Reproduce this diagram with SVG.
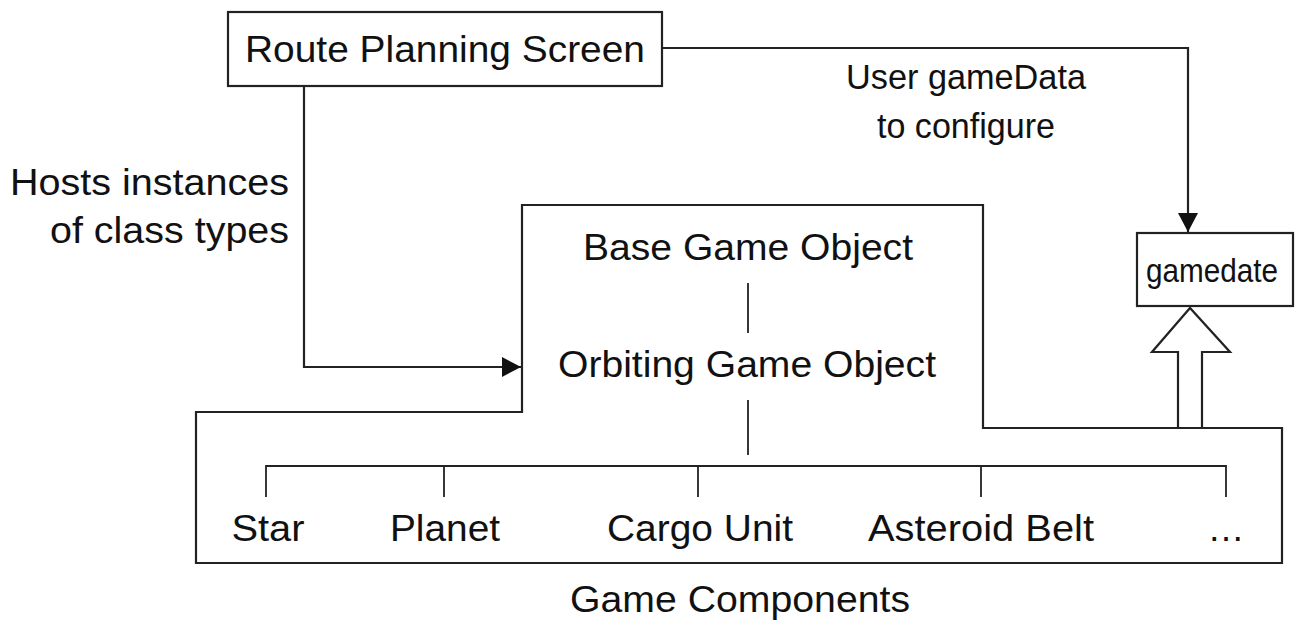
<svg xmlns="http://www.w3.org/2000/svg" width="1306" height="634" viewBox="0 0 1306 634">
<style>
text{font-family:"Liberation Sans",Arial,sans-serif;font-size:37px;fill:#111}
.m{text-anchor:middle}
.e{text-anchor:end}
.ln{fill:none;stroke:#222;stroke-width:2.2}
.th{fill:none;stroke:#222;stroke-width:1.8}
</style>
<defs>
<marker id="ah" markerWidth="20" markerHeight="20" refX="19" refY="10" orient="auto" markerUnits="userSpaceOnUse" viewBox="0 0 20 20">
<path d="M0,0 L19,10 L0,20 z" fill="#111"/>
</marker>
</defs>
<rect width="1306" height="634" fill="#fff"/>
<g id="route">
<rect x="228" y="12" width="434" height="74" class="ln" fill="#fff"/>
<text x="445" y="62" class="m" textLength="400" lengthAdjust="spacingAndGlyphs">Route Planning Screen</text>
</g>
<g id="gamedate">
<rect x="1137" y="233" width="156" height="73" class="ln" fill="#fff"/>
<text x="1212" y="282" class="m" style="font-size:34px" textLength="132" lengthAdjust="spacingAndGlyphs">gamedate</text>
</g>
<g id="components">
<path d="M522,205 H983 V428 H1282 V563 H196 V412 H522 Z" class="ln"/>
<text x="748" y="260" class="m" textLength="330" lengthAdjust="spacingAndGlyphs">Base Game Object</text>
<text x="747" y="377" class="m" textLength="378" lengthAdjust="spacingAndGlyphs">Orbiting Game Object</text>
<text x="268" y="541" class="m" textLength="73" lengthAdjust="spacingAndGlyphs">Star</text>
<text x="445" y="541" class="m" textLength="110" lengthAdjust="spacingAndGlyphs">Planet</text>
<text x="700" y="541" class="m" textLength="186" lengthAdjust="spacingAndGlyphs">Cargo Unit</text>
<text x="981" y="541" class="m" textLength="226" lengthAdjust="spacingAndGlyphs">Asteroid Belt</text>
<text x="1226" y="541" class="m">…</text>
<text x="740" y="612" class="m" textLength="340" lengthAdjust="spacingAndGlyphs">Game Components</text>
</g>
<g id="connectors">
<path d="M748,283 V333 M748,400 V455" class="th"/>
<path d="M266,497 V466 H1226 V497 M444,466 V497 M698,466 V497 M981,466 V497" class="th"/>
<path d="M304,86 V367 H521" class="ln" marker-end="url(#ah)"/>
<path d="M662,48 H1188 V232" class="ln" marker-end="url(#ah)"/>
<path d="M1178,428 V352 H1152 L1190,308 L1230,352 H1202 V428" class="ln" fill="#fff"/>
<text x="966" y="89" class="m" style="font-size:35px" textLength="240" lengthAdjust="spacingAndGlyphs">User gameData</text>
<text x="966" y="138" class="m" style="font-size:35px" textLength="178" lengthAdjust="spacingAndGlyphs">to configure</text>
<text x="289" y="195" class="e" textLength="279" lengthAdjust="spacingAndGlyphs">Hosts instances</text>
<text x="289" y="243" class="e" textLength="239" lengthAdjust="spacingAndGlyphs">of class types</text>
</g>
</svg>
